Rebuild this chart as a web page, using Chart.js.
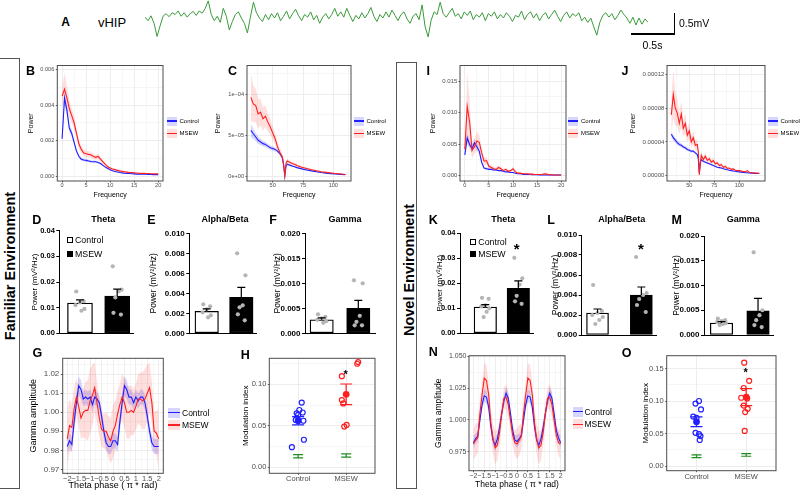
<!DOCTYPE html>
<html>
<head>
<meta charset="utf-8">
<title>vHIP power spectra and phase-amplitude coupling</title>
<script src="https://cdn.jsdelivr.net/npm/chart.js"></script>
<style>
html,body{margin:0;padding:0;background:#fff;}
body{position:relative;width:800px;height:493px;overflow:hidden;font-family:'Liberation Sans',Arial,Helvetica,sans-serif;color:#000;}
canvas{position:absolute;}
.t{position:absolute;white-space:nowrap;line-height:1;transform:translate(-50%,-50%);}
.l{position:absolute;white-space:nowrap;line-height:1;transform:translate(0,-50%);}
</style>
</head>
<body>
<script>
// ===================== DATA =====================
// Panel A: raw vHIP LFP trace (mV)
const traceMV = [
 0.02,-0.06,0.05,-0.12,-0.42,-0.18,0.04,0.10,0.03,0.12,
 0.08,0.16,0.04,0.12,0.02,0.10,0.15,0.06,0.16,0.11,
 0.22,0.39,0.08,-0.06,0.04,-0.10,0.22,0.04,-0.27,-0.08,
 0.08,0.14,0.00,-0.12,-0.34,0.02,0.36,0.12,0.00,-0.08,
 0.08,-0.04,0.10,0.00,0.12,-0.06,0.04,0.16,-0.02,0.10,
 0.20,0.05,-0.06,0.08,0.02,0.14,-0.04,0.06,-0.12,0.02,
 0.10,-0.02,0.08,0.22,0.04,0.14,0.02,0.22,0.06,-0.08,
 0.06,-0.02,0.12,0.00,0.10,0.24,0.04,-0.08,0.08,0.00,
 0.14,0.02,0.18,0.06,-0.06,0.08,0.14,-0.02,-0.12,0.04,
 0.10,-0.04,0.30,-0.20,-0.43,-0.05,0.14,0.08,0.36,0.10,
 0.02,0.12,0.22,0.04,0.10,-0.02,0.14,0.06,0.16,-0.04,
 0.08,0.02,0.12,-0.06,0.10,0.04,0.14,-0.02,0.08,0.00,
 0.12,0.04,-0.08,0.06,0.02,0.16,-0.04,0.08,0.14,0.00,
 0.10,-0.06,0.06,0.12,-0.02,0.08,0.18,0.04,-0.08,0.06,
 0.14,0.00,0.10,0.04,0.12,-0.06,0.02,-0.10,0.00,-0.20,
 -0.39,-0.10,0.06,0.12,0.02,0.10,-0.04,0.06,0.18,0.08,
 0.00,-0.12,0.02,-0.16,0.00,-0.14,-0.02,-0.10
];

// Panels B & I: low-frequency power spectra (0-20 Hz)
const lowFreq = [0,0.5,1,1.5,2,2.5,3,3.5,4,4.5,5,5.5,6,6.5,7,7.5,8,8.5,9,9.5,10,10.5,11,11.5,12,12.5,13,13.5,14,14.5,15,15.5,16,16.5,17,17.5,18,18.5,19,19.5,20];
const bControl = [0.0021,0.0044,0.0037,0.0027,0.0024,0.0019,0.0014,0.0011,0.00095,0.0009,0.00088,0.00085,0.00082,0.0008,0.0008,0.00076,0.0007,0.0006,0.0005,0.00042,0.00035,0.0003,0.00026,0.00023,0.0002,0.00018,0.00016,0.00015,0.00014,0.00013,0.00012,0.00011,0.00011,0.0001,0.0001,0.0001,0.00009,0.00009,0.00008,0.00008,0.00008];
const bControlSE = [0.0002,0.0004,0.0003,0.0002,0.0002,0.00015,0.00012,0.0001,0.0001,0.00008,0.00008,0.00008,0.00007,0.00007,0.00007,0.00006,0.00006,0.00005,0.00005,0.00004,0.00004,0.00003,0.00003,0.00003,0.00002,0.00002,0.00002,0.00002,0.00002,0.00002,0.00002,0.00002,0.00002,0.00002,0.00002,0.00002,0.00002,0.00002,0.00002,0.00002,0.00002];
const bMSEW = [0.0045,0.0049,0.0044,0.0038,0.0034,0.0030,0.0024,0.0018,0.0015,0.0013,0.00125,0.00122,0.0012,0.0011,0.00105,0.0011,0.00095,0.0008,0.00065,0.00052,0.00045,0.0004,0.00036,0.00032,0.00029,0.00026,0.00024,0.00022,0.0002,0.00019,0.00018,0.00017,0.00016,0.00015,0.00015,0.00014,0.00014,0.00013,0.00013,0.00012,0.00012];
const bMSEWSE = [0.0005,0.0009,0.0007,0.0005,0.0004,0.0004,0.0003,0.00025,0.0002,0.0002,0.00018,0.00018,0.00017,0.00016,0.00015,0.00015,0.00014,0.00012,0.0001,0.00008,0.00007,0.00006,0.00005,0.00005,0.00004,0.00004,0.00004,0.00003,0.00003,0.00003,0.00003,0.00003,0.00003,0.00002,0.00002,0.00002,0.00002,0.00002,0.00002,0.00002,0.00002];
const iControl = [0.0033,0.0060,0.0049,0.0043,0.0052,0.0046,0.0039,0.0021,0.0012,0.0011,0.0010,0.0010,0.0009,0.0009,0.0008,0.0008,0.0007,0.0006,0.0006,0.0005,0.0005,0.0004,0.0003,0.0003,0.00025,0.0002,0.0002,0.0002,0.00015,0.00015,0.00015,0.00012,0.0001,0.0001,0.0001,0.0001,0.0001,0.0001,0.0001,0.0001,0.0001];
const iControlSE = [0.0005,0.0008,0.0007,0.0006,0.0007,0.0006,0.0005,0.0004,0.0002,0.0002,0.00015,0.00015,0.00012,0.00012,0.0001,0.0001,0.0001,0.0001,0.0001,0.00008,0.00008,0.00007,0.00006,0.00005,0.00005,0.00004,0.00004,0.00004,0.00003,0.00003,0.00003,0.00003,0.00003,0.00003,0.00002,0.00002,0.00002,0.00002,0.00002,0.00002,0.00002];
const iMSEW = [0.0042,0.0110,0.0085,0.0040,0.0046,0.0055,0.0053,0.0036,0.0023,0.0024,0.0015,0.0013,0.0011,0.0010,0.0013,0.0011,0.0008,0.0010,0.0007,0.0008,0.0011,0.0006,0.0004,0.0004,0.0003,0.0003,0.0003,0.00025,0.00025,0.0002,0.0002,0.0002,0.0002,0.0003,0.00025,0.00015,0.00015,0.00012,0.0001,0.0001,0.0001];
const iMSEWSE = [0.0008,0.0055,0.0035,0.0012,0.0012,0.0015,0.0012,0.0008,0.0006,0.0006,0.0004,0.0003,0.0003,0.0003,0.0004,0.0003,0.0003,0.0003,0.0002,0.0002,0.0003,0.0002,0.00015,0.00012,0.0001,0.0001,0.0001,0.0001,0.0001,0.0001,0.0001,0.0001,0.0001,0.0001,0.0001,0.00008,0.00008,0.00006,0.00005,0.00005,0.00005];

// Panel C: gamma-range power spectrum (values in units of 1e-5)
const cFreq = [32,34,36,38,40,42,44,46,48,50,52,54,56,58,59,60,61,62,64,66,68,70,74,78,82,86,90,94,98,102,106,110];
const cControl = [5.6,5.2,4.8,4.4,4.2,4.0,3.9,3.7,3.5,3.4,3.3,3.1,2.8,2.3,1.4,0.1,1.3,1.5,1.4,1.3,1.2,1.1,0.95,0.82,0.7,0.6,0.5,0.43,0.37,0.32,0.28,0.25];
const cControlSE = [0.8,0.6,0.5,0.45,0.4,0.35,0.32,0.3,0.28,0.26,0.25,0.22,0.2,0.18,0.12,0.03,0.12,0.12,0.1,0.1,0.09,0.08,0.07,0.06,0.05,0.05,0.04,0.04,0.03,0.03,0.03,0.03];
const cMSEW = [9.6,8.8,8.6,7.6,7.8,7.0,7.3,6.6,6.0,5.3,4.6,3.6,2.9,2.4,1.5,0.1,1.6,1.9,1.75,1.6,1.5,1.35,1.15,1.0,0.85,0.72,0.6,0.52,0.45,0.38,0.32,0.27];
const cMSEWSE = [2.8,2.2,2.0,1.8,1.6,1.4,1.3,1.1,1.0,0.8,0.7,0.6,0.5,0.4,0.3,0.05,0.3,0.3,0.25,0.25,0.2,0.2,0.15,0.15,0.12,0.1,0.1,0.08,0.08,0.07,0.06,0.05];

// Panel J: gamma-range power spectrum, novel environment (units of 1e-5)
const jFreq = [32,34,36,38,40,42,44,46,48,50,52,54,56,58,59,60,61,62,64,66,68,70,72,74,76,78,80,82,84,86,88,90,92,94,96,98,100,102,104,106,108,110,112,114,116,118,120];
const jControl = [4.9,4.5,4.2,3.9,3.7,3.6,3.4,3.3,3.1,3.0,2.9,2.9,2.7,2.5,2.0,0.3,1.5,1.9,1.7,1.6,1.5,1.4,1.3,1.2,1.1,1.0,0.95,0.9,0.82,0.76,0.7,0.65,0.6,0.56,0.52,0.48,0.45,0.42,0.39,0.36,0.34,0.32,0.3,0.28,0.27,0.26,0.25];
const jControlSE = [0.4,0.35,0.3,0.28,0.25,0.24,0.22,0.2,0.2,0.18,0.18,0.17,0.16,0.15,0.12,0.05,0.1,0.12,0.1,0.1,0.09,0.09,0.08,0.08,0.07,0.07,0.06,0.06,0.05,0.05,0.05,0.04,0.04,0.04,0.04,0.03,0.03,0.03,0.03,0.03,0.03,0.02,0.02,0.02,0.02,0.02,0.02];
const jMSEW = [7.2,9.6,8.0,7.4,6.2,7.3,5.6,6.2,4.8,5.3,4.0,4.5,3.6,3.7,2.8,0.1,1.5,2.4,1.9,2.3,1.8,2.0,1.6,1.8,1.4,1.5,1.2,1.3,1.0,1.1,0.85,0.9,0.75,0.8,0.65,0.6,0.6,0.55,0.5,0.45,0.6,0.4,0.35,0.35,0.3,0.3,0.28];
const jMSEWSE = [2.0,2.8,2.0,1.6,1.3,1.5,1.0,1.2,0.8,1.0,0.7,0.8,0.6,0.6,0.5,0.1,0.3,0.5,0.4,0.45,0.35,0.4,0.3,0.35,0.25,0.3,0.22,0.25,0.18,0.2,0.15,0.16,0.12,0.14,0.1,0.1,0.1,0.09,0.08,0.08,0.1,0.07,0.06,0.06,0.05,0.05,0.05];

// Band power bar panels: [Control, MSEW] means, SEMs and individual animals
const groups = ['Control', 'MSEW'];
const dMean = [0.0118, 0.0145], dSem = [0.0012, 0.0027];
const dCtrlPts = [0.0163,0.0125,0.0120,0.0110,0.0095,0.0088];
const dMsewPts = [0.0261,0.0170,0.0163,0.0140,0.0080,0.0073];
const eMean = [0.0022, 0.0036], eSem = [0.00025, 0.0010];
const eCtrlPts = [0.0029,0.0027,0.0024,0.0021,0.0018,0.0016];
const eMsewPts = [0.0080,0.0058,0.0028,0.0026,0.0019,0.0013];
const fMean = [0.0027, 0.0050], fSem = [0.0004, 0.0016];
const fCtrlPts = [0.0038,0.0033,0.0030,0.0027,0.0024,0.0021];
const fMsewPts = [0.0106,0.0100,0.0035,0.0023,0.0016,0.0016];
const kMean = [0.0105, 0.0180], kSem = [0.0010, 0.0030];
const kCtrlPts = [0.0142,0.0138,0.0112,0.0108,0.0100,0.0086,0.0065];
const kMsewPts = [0.0302,0.0220,0.0195,0.0150,0.0128,0.0118];
const lMean = [0.0022, 0.0040], lSem = [0.0004, 0.0008];
const lCtrlPts = [0.0050,0.0024,0.0022,0.0020,0.0018,0.0015,0.0011];
const lMsewPts = [0.0078,0.0042,0.0040,0.0036,0.0030,0.0023];
const mMean = [0.0024, 0.0049], mSem = [0.0003, 0.0025];
const mCtrlPts = [0.0033,0.0030,0.0028,0.0026,0.0024,0.0022,0.0020];
const mMsewPts = [0.0167,0.0050,0.0040,0.0030,0.0020,0.0016];
const thetaTicks = [0, 0.01, 0.02, 0.03, 0.04], thetaLabels = ['0.00','0.01','0.02','0.03','0.04'];
const alphaTicks = [0, 0.002, 0.004, 0.006, 0.008, 0.010], alphaLabels = ['0.000','0.002','0.004','0.006','0.008','0.010'];
const gammaTicks = [0, 0.005, 0.010, 0.015, 0.020], gammaLabels = ['0.000','0.005','0.010','0.015','0.020'];

// Panels G & N: gamma amplitude by theta phase (pi * rad)
const phase = [-2,-1.9,-1.8,-1.7,-1.6,-1.5,-1.4,-1.3,-1.2,-1.1,-1,-0.9,-0.8,-0.7,-0.6,-0.5,-0.4,-0.3,-0.2,-0.1,0,0.1,0.2,0.3,0.4,0.5,0.6,0.7,0.8,0.9,1,1.1,1.2,1.3,1.4,1.5,1.6,1.7,1.8,1.9,2];
const phaseTicks = [-2,-1.5,-1,-0.5,0,0.5,1,1.5,2];
const phaseLabels = ['\u22122','\u22121.5','\u22121','\u22120.5','0','0.5','1','1.5','2'];
const gControl = [0.982,0.985,0.983,0.995,1.005,1.014,1.012,1.007,1.008,1.007,1.008,1.004,1.008,1.007,1.005,0.998,0.990,0.984,0.982,0.982,0.985,0.985,0.983,0.995,1.005,1.014,1.012,1.008,1.008,1.005,1.008,1.006,1.008,1.008,1.005,0.998,0.990,0.984,0.982,0.982,0.982];
const gControlSE = [0.004,0.004,0.004,0.005,0.005,0.005,0.005,0.004,0.004,0.004,0.004,0.004,0.004,0.004,0.004,0.004,0.004,0.004,0.004,0.004,0.004,0.004,0.004,0.005,0.005,0.005,0.005,0.004,0.004,0.004,0.004,0.004,0.004,0.004,0.004,0.004,0.004,0.004,0.004,0.004,0.004];
const gMSEW = [0.986,0.993,0.992,1.002,1.008,1.003,0.997,1.000,1.001,1.001,1.006,1.009,1.013,1.005,0.997,0.991,0.990,0.990,0.987,0.985,0.990,0.993,0.999,1.004,1.008,1.005,1.000,1.000,1.001,1.000,1.003,1.007,1.007,1.006,1.007,1.010,1.013,1.005,0.990,0.989,0.986];
const gMSEWSE = [0.016,0.014,0.012,0.011,0.010,0.010,0.011,0.013,0.015,0.016,0.017,0.016,0.013,0.011,0.010,0.009,0.009,0.010,0.011,0.012,0.014,0.013,0.012,0.011,0.012,0.013,0.014,0.014,0.013,0.012,0.012,0.013,0.014,0.015,0.016,0.015,0.013,0.011,0.010,0.012,0.016];
const nControl = [0.982,0.985,0.987,1.000,1.012,1.019,1.018,1.010,0.995,0.984,0.980,0.985,0.994,1.005,1.015,1.021,1.017,1.005,0.992,0.984,0.983,0.985,0.988,1.000,1.012,1.019,1.018,1.010,0.995,0.984,0.980,0.985,0.994,1.005,1.015,1.021,1.017,1.005,0.992,0.986,0.982];
const nControlSE = [0.005,0.004,0.004,0.004,0.004,0.005,0.005,0.004,0.004,0.004,0.005,0.004,0.004,0.004,0.004,0.005,0.005,0.004,0.004,0.004,0.005,0.004,0.004,0.004,0.004,0.005,0.005,0.004,0.004,0.004,0.005,0.004,0.004,0.004,0.004,0.005,0.005,0.004,0.004,0.004,0.005];
const nMSEW = [0.981,0.984,0.986,1.005,1.020,1.033,1.031,1.020,0.998,0.985,0.978,0.980,0.990,1.005,1.017,1.018,1.012,1.000,0.988,0.982,0.981,0.984,0.987,1.005,1.020,1.033,1.031,1.020,0.998,0.985,0.978,0.980,0.990,1.005,1.017,1.018,1.012,1.000,0.988,0.982,0.981];
const nMSEWSE = [0.012,0.013,0.012,0.010,0.010,0.012,0.012,0.010,0.010,0.012,0.013,0.012,0.010,0.008,0.008,0.010,0.010,0.008,0.008,0.010,0.012,0.012,0.010,0.010,0.010,0.012,0.012,0.010,0.010,0.012,0.013,0.012,0.010,0.008,0.008,0.010,0.010,0.008,0.008,0.010,0.012];

// Panels H & O: modulation index per animal, group mean +/- SEM, surrogate (green)
const hControl = [0.078,0.069,0.066,0.065,0.063,0.057,0.056,0.033,0.024];
const hMSEW = [0.127,0.125,0.110,0.081,0.077,0.051,0.049];
const hMean = [0.056, 0.088], hSem = [0.005, 0.0125];
const hSurr = [0.013, 0.014], hSurrSem = [0.002, 0.002];
const oControl = [0.100,0.096,0.087,0.076,0.074,0.051,0.049,0.046,0.040];
const oMSEW = [0.159,0.131,0.120,0.105,0.104,0.093,0.088,0.083,0.054];
const oMean = [0.068, 0.106], oSem = [0.0075, 0.013];
const oSurr = [0.015, 0.017], oSurrSem = [0.002, 0.002];

// ===================== STYLE (positions / jitter, not data) =====================
const dotJitter = [-0.1, 0.1, 0.0, -0.12, 0.12, 0.04, -0.05];
const hCtrlJit = [0.075,0.025,0.095,-0.03,0,-0.05,0.11,0.12,-0.13];
const hMsewJit = [0.25,0.23,-0.09,-0.09,-0.06,0.01,-0.04];
const oCtrlJit = [0.05,-0.02,0.09,-0.065,0,-0.02,0.05,0.08,0.065];
const oMsewJit = [-0.04,0.06,-0.05,-0.1,0.02,-0.05,0.03,-0.02,-0.03];

const BLUE = '#1f1fff', RED = '#ff1f1f', GREEN = '#238b23';
const BLUE_BAND = 'rgba(0,0,255,0.16)', RED_BAND = 'rgba(255,0,0,0.13)';

Chart.defaults.font.family = "'Liberation Sans', Arial, Helvetica, sans-serif";
Chart.defaults.color = '#000';
Chart.defaults.animation = false;
Chart.defaults.plugins.legend.display = false;
Chart.defaults.plugins.tooltip.enabled = false;

// ===================== HELPERS =====================
function mkCanvas(L, T, R, B) {
  const c = document.createElement('canvas');
  const w = R - L, h = B - T;
  c.width = w; c.height = h;
  c.style.cssText = 'left:' + L + 'px;top:' + T + 'px;width:' + w + 'px;height:' + h + 'px;';
  document.body.appendChild(c);
  return c;
}
function txt(s, x, y, css, cls) {
  const d = document.createElement('div');
  d.className = cls || 't';
  d.textContent = s;
  d.style.left = x + 'px'; d.style.top = y + 'px';
  if (css) d.style.cssText += css;
  document.body.appendChild(d);
  return d;
}
function rect(x, y, w, h, css) {
  const d = document.createElement('div');
  d.style.cssText = 'position:absolute;left:' + x + 'px;top:' + y + 'px;width:' + w + 'px;height:' + h + 'px;' + (css || '');
  document.body.appendChild(d);
  return d;
}
const framePlugin = {
  id: 'ggframe',
  afterDatasetsDraw(chart) {
    const a = chart.chartArea, ctx = chart.ctx;
    ctx.save(); ctx.strokeStyle = '#4d4d4d'; ctx.lineWidth = 1;
    ctx.strokeRect(a.left, a.top, a.right - a.left, a.bottom - a.top);
    ctx.restore();
  }
};
function errBars(items, before) {
  const draw = (chart) => {
    const ctx = chart.ctx, xs = chart.scales.x, ys = chart.scales.y;
    ctx.save(); ctx.lineCap = 'butt';
    items.forEach(it => {
      const px = xs.getPixelForValue(it.x), p0 = ys.getPixelForValue(it.lo), p1 = ys.getPixelForValue(it.hi);
      ctx.strokeStyle = it.color; ctx.lineWidth = it.lw;
      ctx.beginPath();
      ctx.moveTo(px, p0); ctx.lineTo(px, p1);
      ctx.moveTo(px - it.cap / 2, p1); ctx.lineTo(px + it.cap / 2, p1);
      if (it.both) { ctx.moveTo(px - it.cap / 2, p0); ctx.lineTo(px + it.cap / 2, p0); }
      ctx.stroke();
    });
    ctx.restore();
  };
  return before ? { id: 'errbars', beforeDatasetsDraw: draw } : { id: 'errbars', afterDatasetsDraw: draw };
}
function ggAxis(spec, isX, size, a) {
  const minor = spec.minor || [];
  const all = spec.major.concat(minor).sort((p, q) => p - q);
  const eps = (spec.max - spec.min) * 1e-6;
  const isMaj = v => spec.major.some(m => Math.abs(m - v) < eps);
  return {
    type: 'linear', min: spec.min, max: spec.max, bounds: 'data', offset: false,
    afterBuildTicks: s => { s.ticks = all.map(v => ({ value: v })); },
    afterFit: s => { if (isX) s.height = size; else s.width = size; },
    ticks: {
      autoSkip: false, maxRotation: 0, minRotation: 0, padding: a.pad, color: '#4d4d4d', font: { size: a.tf },
      callback: v => { const i = spec.major.findIndex(m => Math.abs(m - v) < eps); return i >= 0 ? spec.labels[i] : ''; }
    },
    grid: {
      display: true, drawOnChartArea: true, drawTicks: true, tickLength: a.tl, offset: false,
      color: '#ebebeb',
      lineWidth: ctx => (ctx.tick && isMaj(ctx.tick.value)) ? 0.9 : 0.45,
      tickColor: ctx => (ctx.tick && isMaj(ctx.tick.value)) ? '#333' : 'rgba(0,0,0,0)',
      tickWidth: 0.8
    },
    border: { display: false },
    title: a.title ? { display: true, text: a.title, color: '#000', font: { size: a.ttf }, padding: 0 } : { display: false }
  };
}
function baseOpts(box, plot) {
  return {
    responsive: false, animation: false, events: [], devicePixelRatio: 1,
    layout: { padding: { left: 0, bottom: 0, top: plot[1] - box[1], right: box[2] - plot[2] } },
    plugins: { legend: { display: false }, tooltip: { enabled: false } }
  };
}
function ggLinePanel(o) {
  const c = mkCanvas(o.box[0], o.box[1], o.box[2], o.box[3]);
  const lines = [], bands = [];
  o.series.forEach(s => {
    lines.unshift({ data: s.x.map((x, i) => ({ x: x, y: s.y[i] })), borderColor: s.color, borderWidth: 1.1, pointRadius: 0, fill: false, tension: 0 });
    bands.unshift(
      { data: s.x.map((x, i) => ({ x: x, y: s.y[i] + s.se[i] })), borderColor: 'rgba(0,0,0,0)', borderWidth: 0, pointRadius: 0, fill: '+1', backgroundColor: s.band, tension: 0 },
      { data: s.x.map((x, i) => ({ x: x, y: s.y[i] - s.se[i] })), borderColor: 'rgba(0,0,0,0)', borderWidth: 0, pointRadius: 0, fill: false, tension: 0 }
    );
  });
  const opts = baseOpts(o.box, o.plot);
  opts.scales = {
    x: ggAxis(o.xs, true, o.box[3] - o.plot[3], o.xa),
    y: ggAxis(o.ys, false, o.plot[0] - o.box[0], o.ya)
  };
  new Chart(c, { type: 'line', data: { datasets: lines.concat(bands) }, options: opts, plugins: [framePlugin] });
}
function barPanel(o) {
  const c = mkCanvas(o.box[0], o.box[1], o.box[2], o.box[3]);
  const pts = [];
  o.ctrl.forEach((v, i) => pts.push({ x: 0 + dotJitter[i % dotJitter.length], y: v }));
  o.msew.forEach((v, i) => pts.push({ x: 1 + dotJitter[(i + 3) % dotJitter.length], y: v }));
  const err = o.mean.map((m, i) => ({ x: i, lo: m, hi: m + o.sem[i], cap: 8, color: '#000', lw: 1.2, both: false }));
  const opts = baseOpts(o.box, o.plot);
  opts.scales = {
    x: { type: 'linear', min: o.xr[0], max: o.xr[1], offset: false,
         afterFit: s => { s.height = o.box[3] - o.plot[3]; },
         ticks: { display: false }, grid: { display: false, offset: false },
         border: { display: true, color: '#000', width: 1 } },
    y: { type: 'linear', min: 0, max: o.yt[o.yt.length - 1], bounds: 'data',
         afterBuildTicks: s => { s.ticks = o.yt.map(v => ({ value: v })); },
         afterFit: s => { s.width = o.plot[0] - o.box[0]; },
         ticks: { autoSkip: false, color: '#000', font: { size: o.tf, weight: 'bold' }, padding: 1.5, callback: (v, i) => o.yl[i] },
         grid: { display: true, drawOnChartArea: false, drawTicks: true, tickLength: 3, tickColor: '#000', tickWidth: 1 },
         border: { display: true, color: '#000', width: 1 },
         title: { display: true, text: 'Power (mV\u00B2/Hz)', color: '#000', font: { size: o.ttf }, padding: 0 } }
  };
  new Chart(c, {
    type: 'bar',
    data: { datasets: [
      { type: 'scatter', data: pts, pointRadius: 2.1, pointBackgroundColor: '#b5b5b5', pointBorderColor: 'rgba(0,0,0,0)', pointBorderWidth: 0 },
      { type: 'bar', label: 'mean', data: o.mean.map((m, i) => ({ x: i, y: m })), backgroundColor: ['#ffffff', '#000000'],
        borderColor: '#000', borderWidth: 1.3, borderSkipped: false, barThickness: o.bw }
    ] },
    options: opts,
    plugins: [errBars(err, false)]
  });
}
function pacPanel(o) {
  const c = mkCanvas(o.box[0], o.box[1], o.box[2], o.box[3]);
  const ds = [
    { data: [{ x: 1, y: o.mean[0] }], pointRadius: 3.4, pointBackgroundColor: BLUE, pointBorderWidth: 0, pointBorderColor: BLUE },
    { data: [{ x: 2, y: o.mean[1] }], pointRadius: 3.4, pointBackgroundColor: RED, pointBorderWidth: 0, pointBorderColor: RED },
    { data: o.ctrl.map((v, i) => ({ x: 1 + o.cj[i], y: v })), pointRadius: 2.5, pointBackgroundColor: 'rgba(0,0,0,0)', pointBorderColor: BLUE, pointBorderWidth: 1.2 },
    { data: o.msew.map((v, i) => ({ x: 2 + o.mj[i], y: v })), pointRadius: 2.5, pointBackgroundColor: 'rgba(0,0,0,0)', pointBorderColor: RED, pointBorderWidth: 1.2 }
  ];
  const err = [
    { x: 1, lo: o.mean[0] - o.sem[0], hi: o.mean[0] + o.sem[0], cap: 12, color: BLUE, lw: 1.2, both: true },
    { x: 2, lo: o.mean[1] - o.sem[1], hi: o.mean[1] + o.sem[1], cap: 12, color: RED, lw: 1.2, both: true },
    { x: 1, lo: o.surr[0] - o.surrSem[0], hi: o.surr[0] + o.surrSem[0], cap: 10, color: GREEN, lw: 1.2, both: true },
    { x: 2, lo: o.surr[1] - o.surrSem[1], hi: o.surr[1] + o.surrSem[1], cap: 10, color: GREEN, lw: 1.2, both: true }
  ];
  const opts = baseOpts(o.box, o.plot);
  opts.scales = {
    x: ggAxis({ min: 0.4, max: 2.6, major: [1, 2], labels: groups, minor: [] }, true, o.box[3] - o.plot[3], o.xa),
    y: ggAxis(o.ys, false, o.plot[0] - o.box[0], o.ya)
  };
  new Chart(c, { type: 'scatter', data: { datasets: ds }, options: opts, plugins: [errBars(err, true), framePlugin] });
}
function ggLegend(x, y1, y2, w, h, textX, fs) {
  [[y1, 'Control', BLUE_BAND, BLUE], [y2, 'MSEW', RED_BAND, RED]].forEach(e => {
    const k = rect(x, e[0] - h / 2, w, h, 'background:' + e[2] + ';');
    const ln = document.createElement('div');
    ln.style.cssText = 'position:absolute;left:0;top:' + (h / 2 - 0.6) + 'px;width:' + w + 'px;height:1.2px;background:' + e[3] + ';';
    k.appendChild(ln);
    txt(e[1], textX, e[0], 'font-size:' + fs + 'px;', 'l');
  });
}
function barLegend(x, y1, y2, textX) {
  rect(x, y1 - 3, 6, 6, 'background:#fff;border:1px solid #000;box-sizing:border-box;');
  txt('Control', textX, y1, 'font-size:8.8px;', 'l');
  rect(x, y2 - 3, 6, 6, 'background:#000;');
  txt('MSEW', textX, y2, 'font-size:8.8px;', 'l');
}

// ===================== PANEL A: trace =====================
(function () {
  const c = mkCanvas(145, 0, 648, 40);
  new Chart(c, {
    type: 'line',
    data: { datasets: [{ data: traceMV.map((v, i) => ({ x: i, y: v })), borderColor: '#3a9a3a', borderWidth: 1, pointRadius: 0, tension: 0, fill: false }] },
    options: {
      responsive: false, animation: false, events: [], devicePixelRatio: 1,
      layout: { padding: 0 },
      plugins: { legend: { display: false }, tooltip: { enabled: false } },
      scales: { x: { type: 'linear', display: false, min: 0, max: traceMV.length - 1 }, y: { type: 'linear', display: false, min: -0.5, max: 0.41 } }
    }
  });
})();

// ===================== PANELS B, C, I, J: spectra =====================
const lowXs = { min: -1, max: 21, major: [0, 5, 10, 15, 20], labels: ['0', '5', '10', '15', '20'], minor: [2.5, 7.5, 12.5, 17.5] };
const gamXMinor = [37.5, 62.5, 87.5, 112.5];
const specXa = { title: 'Frequency', ttf: 7, tf: 5.6, tl: 1.5, pad: 0 };
const specYa = { title: 'Power', ttf: 7, tf: 5.6, tl: 1.5, pad: 1.5 };
const specYa6 = { title: 'Power', ttf: 7, tf: 6, tl: 1.5, pad: 1.2 };

ggLinePanel({ box: [27, 58, 170, 199], plot: [57.3, 65.5, 163, 181],
  xs: lowXs,
  ys: { min: -0.00028, max: 0.006225, major: [0, 0.002, 0.004, 0.006], labels: ['0.000', '0.002', '0.004', '0.006'], minor: [0.001, 0.003, 0.005] },
  xa: specXa, ya: specYa,
  series: [{ x: lowFreq, y: bControl, se: bControlSE, color: BLUE, band: BLUE_BAND }, { x: lowFreq, y: bMSEW, se: bMSEWSE, color: RED, band: RED_BAND }] });

ggLinePanel({ box: [214, 58, 358, 199], plot: [247, 65.5, 351, 181],
  xs: { min: 28.8, max: 114.6, major: [50, 75, 100], labels: ['50', '75', '100'], minor: gamXMinor },
  ys: { min: -0.52, max: 13.45, major: [0, 5, 10], labels: ['0e+00', '5e\u221205', '1e\u221204'], minor: [2.5, 7.5, 12.5] },
  xa: specXa, ya: specYa,
  series: [{ x: cFreq, y: cControl, se: cControlSE, color: BLUE, band: BLUE_BAND }, { x: cFreq, y: cMSEW, se: cMSEWSE, color: RED, band: RED_BAND }] });

ggLinePanel({ box: [429, 58, 573, 199], plot: [460, 65.5, 566, 181],
  xs: lowXs,
  ys: { min: -0.00084, max: 0.01746, major: [0, 0.005, 0.010, 0.015], labels: ['0.000', '0.005', '0.010', '0.015'], minor: [0.0025, 0.0075, 0.0125] },
  xa: specXa, ya: specYa6,
  series: [{ x: lowFreq, y: iControl, se: iControlSE, color: BLUE, band: BLUE_BAND }, { x: lowFreq, y: iMSEW, se: iMSEWSE, color: RED, band: RED_BAND }] });

ggLinePanel({ box: [629, 58, 772, 199], plot: [667, 65.5, 765, 181],
  xs: { min: 27.7, max: 125.7, major: [50, 75, 100], labels: ['50', '75', '100'], minor: gamXMinor },
  ys: { min: -0.63, max: 13.04, major: [0, 4, 8, 12], labels: ['0.00000', '0.00004', '0.00008', '0.00012'], minor: [2, 6, 10] },
  xa: specXa, ya: specYa6,
  series: [{ x: jFreq, y: jControl, se: jControlSE, color: BLUE, band: BLUE_BAND }, { x: jFreq, y: jMSEW, se: jMSEWSE, color: RED, band: RED_BAND }] });

// ===================== PANELS D-F, K-M: band power bars =====================
barPanel({ box: [30, 222, 138, 342], plot: [59.3, 230.7, 133, 333.3], xr: [-0.556, 1.425], bw: 25, tf: 7.5, ttf: 8,
  yt: thetaTicks, yl: thetaLabels, mean: dMean, sem: dSem, ctrl: dCtrlPts, msew: dMsewPts });
barPanel({ box: [149, 224, 262, 342], plot: [189.3, 233.3, 256.7, 333.3], xr: [-0.503, 1.445], bw: 23.5, tf: 8, ttf: 8.5,
  yt: alphaTicks, yl: alphaLabels, mean: eMean, sem: eSem, ctrl: eCtrlPts, msew: eMsewPts });
barPanel({ box: [273, 224, 380, 342], plot: [305, 233.3, 375, 333.3], xr: [-0.456, 1.456], bw: 23.3, tf: 8, ttf: 8.5,
  yt: gammaTicks, yl: gammaLabels, mean: fMean, sem: fSem, ctrl: fCtrlPts, msew: fMsewPts });
barPanel({ box: [435, 224, 538, 342], plot: [460, 233.3, 533, 333.3], xr: [-0.767, 1.445], bw: 22.5, tf: 7.5, ttf: 8,
  yt: thetaTicks, yl: thetaLabels, mean: kMean, sem: kSem, ctrl: kCtrlPts, msew: kMsewPts });
barPanel({ box: [551, 226, 662, 344], plot: [581.7, 235, 656.7, 335], xr: [-0.361, 1.35], bw: 22, tf: 8, ttf: 8.5,
  yt: alphaTicks, yl: alphaLabels, mean: lMean, sem: lSem, ctrl: lCtrlPts, msew: lMsewPts });
barPanel({ box: [672, 226, 778, 344], plot: [704, 236, 773, 335], xr: [-0.479, 1.41], bw: 22.5, tf: 8, ttf: 8.5,
  yt: gammaTicks, yl: gammaLabels, mean: mMean, sem: mSem, ctrl: mCtrlPts, msew: mMsewPts });

// ===================== PANELS G, N: phase-amplitude =====================
const phaseXs = { min: -2.2, max: 2.2, major: phaseTicks, labels: phaseLabels, minor: [-1.75, -1.25, -0.75, -0.25, 0.25, 0.75, 1.25, 1.75] };
ggLinePanel({ box: [28, 350, 170, 491], plot: [62.7, 358.3, 163.3, 473.3],
  xs: phaseXs,
  ys: { min: 0.9679, max: 1.0284, major: [0.97, 0.98, 0.99, 1.00, 1.01, 1.02], labels: ['0.97', '0.98', '0.99', '1.00', '1.01', '1.02'], minor: [0.975, 0.985, 0.995, 1.005, 1.015, 1.025] },
  xa: { title: 'Theta phase ( \u03C0 * rad)', ttf: 9, tf: 7.5, tl: 1, pad: 0 },
  ya: { title: 'Gamma amplitude', ttf: 9, tf: 8, tl: 2, pad: 1.4 },
  series: [{ x: phase, y: gControl, se: gControlSE, color: BLUE, band: BLUE_BAND }, { x: phase, y: gMSEW, se: gMSEWSE, color: RED, band: RED_BAND }] });

ggLinePanel({ box: [434, 348, 571, 490], plot: [469, 355.7, 565, 470.7],
  xs: phaseXs,
  ys: { min: 0.960, max: 1.0505, major: [0.975, 1.000, 1.025, 1.050], labels: ['0.975', '1.000', '1.025', '1.050'], minor: [0.9625, 0.9875, 1.0125, 1.0375] },
  xa: { title: 'Theta phase ( \u03C0 * rad)', ttf: 8.5, tf: 7, tl: 1.5, pad: 0 },
  ya: { title: 'Gamma amplitude', ttf: 8.5, tf: 7, tl: 1.5, pad: 1 },
  series: [{ x: phase, y: nControl, se: nControlSE, color: BLUE, band: BLUE_BAND }, { x: phase, y: nMSEW, se: nMSEWSE, color: RED, band: RED_BAND }] });

// ===================== PANELS H, O: modulation index =====================
pacPanel({ box: [241, 350, 381, 486], plot: [269.3, 358.3, 375, 473.3],
  ys: { min: -0.0076, max: 0.1316, major: [0, 0.05, 0.10], labels: ['0.00', '0.05', '0.10'], minor: [0.025, 0.075, 0.125] },
  xa: { title: '', tf: 7.5, tl: 1.5, pad: 0 }, ya: { title: 'Modulation index', ttf: 8, tf: 7.5, tl: 1.5, pad: 1.5 },
  ctrl: hControl, msew: hMSEW, cj: hCtrlJit, mj: hMsewJit, mean: hMean, sem: hSem, surr: hSurr, surrSem: hSurrSem });
pacPanel({ box: [641, 348, 782, 485], plot: [666.7, 355.7, 776, 470.7],
  ys: { min: -0.0072, max: 0.1697, major: [0, 0.05, 0.10, 0.15], labels: ['0.00', '0.05', '0.10', '0.15'], minor: [0.025, 0.075, 0.125] },
  xa: { title: '', tf: 7.5, tl: 1.5, pad: 0.5 }, ya: { title: 'Modulation index', ttf: 8, tf: 7.5, tl: 1.5, pad: 1.5 },
  ctrl: oControl, msew: oMSEW, cj: oCtrlJit, mj: oMsewJit, mean: oMean, sem: oSem, surr: oSurr, surrSem: oSurrSem });

// ===================== TEXT, LEGENDS, FRAMES =====================
txt('A', 65.5, 22, 'font-weight:bold;font-size:12px;');
txt('vHIP', 112, 22, 'font-size:13px;');
rect(631, 33.3, 43.5, 1.4, 'background:#000;');
rect(673.6, 12.5, 1.4, 22.2, 'background:#000;');
txt('0.5mV', 679, 22.8, 'font-size:10.5px;', 'l');
txt('0.5s', 652.5, 44.5, 'font-size:10.5px;');

rect(-2, 58, 22, 431, 'border:1px solid #555;box-sizing:border-box;');
rect(396, 62, 21, 427, 'border:1px solid #555;box-sizing:border-box;');
txt('Familiar Environment', 9.5, 266, 'font-weight:bold;font-size:14.5px;transform:translate(-50%,-50%) rotate(-90deg);');
txt('Novel Environment', 408.5, 270, 'font-weight:bold;font-size:14.5px;transform:translate(-50%,-50%) rotate(-90deg);');

const letterCss = 'font-weight:bold;font-size:12.5px;';
[['B', 30.5, 71], ['C', 232.5, 71], ['I', 428.3, 71], ['J', 625, 71],
 ['D', 36.7, 220], ['E', 151.3, 220], ['F', 273, 220], ['K', 433.3, 220], ['L', 551, 220], ['M', 676.7, 220],
 ['G', 37.3, 352.5], ['H', 245.3, 355], ['N', 433.3, 352.3], ['O', 626.7, 353.3]].forEach(p => txt(p[0], p[1], p[2], letterCss));

const titleCss = 'font-weight:bold;font-size:9px;';
[['Theta', 103.3, 219], ['Alpha/Beta', 225, 219], ['Gamma', 345, 219],
 ['Theta', 503.3, 219], ['Alpha/Beta', 621.7, 219], ['Gamma', 743.3, 219]].forEach(p => txt(p[0], p[1], p[2], titleCss));

ggLegend(167, 121, 133.3, 10, 9, 179.5, 6);
ggLegend(354, 121, 133.3, 10, 9, 366.5, 6);
ggLegend(568.3, 121, 133.3, 10, 9, 581, 6);
ggLegend(768.3, 121, 133.3, 10, 9, 780.5, 6);
ggLegend(168.3, 412.7, 425, 11.7, 10, 182, 8.5);
ggLegend(572.7, 411.7, 424.3, 10, 10, 584.5, 8.5);

barLegend(66.7, 240.3, 253.7, 75);
barLegend(470, 242.3, 254, 478.3);

txt('*', 516.7, 248.3, 'font-weight:bold;font-size:15px;');
txt('*', 641, 248.3, 'font-weight:bold;font-size:15px;');
txt('*', 345.7, 374, 'font-weight:bold;font-size:11px;');
txt('*', 745.7, 372.4, 'font-weight:bold;font-size:11px;');
</script>
</body>
</html>
